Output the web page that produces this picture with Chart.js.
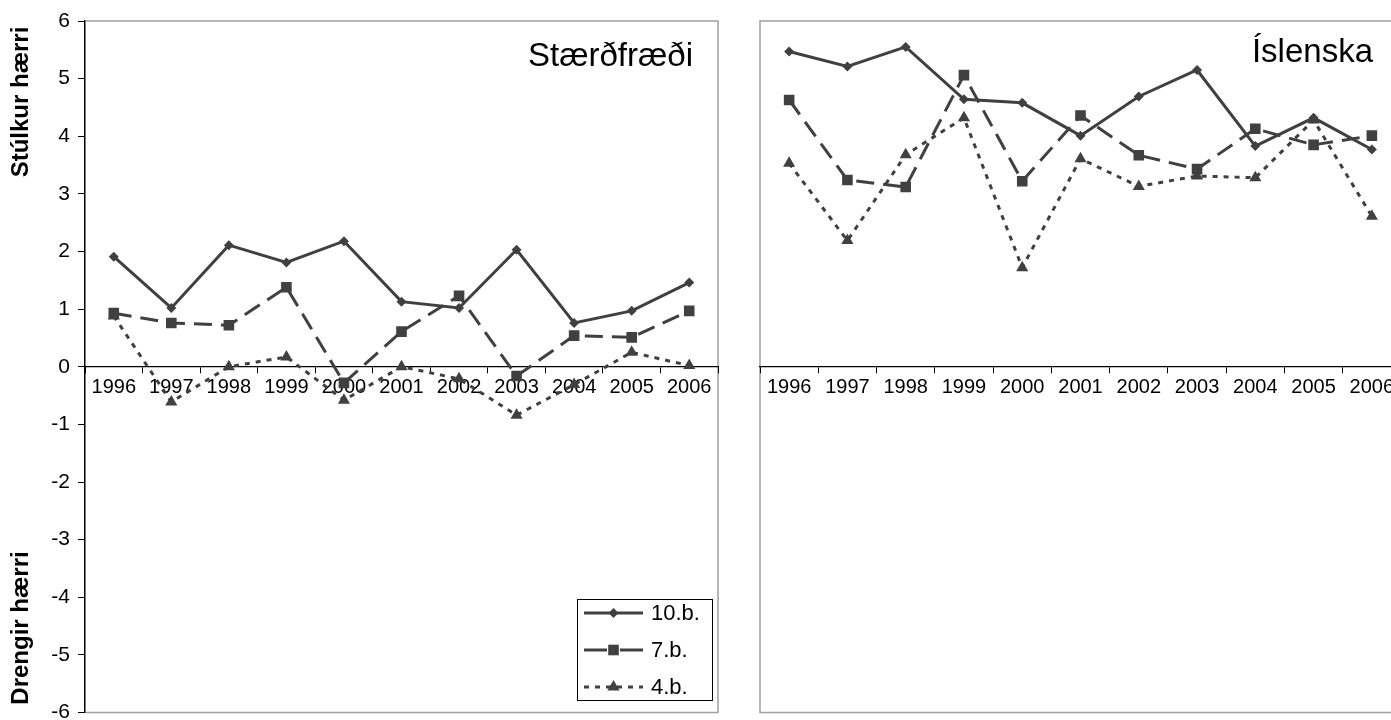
<!DOCTYPE html>
<html>
<head>
<meta charset="utf-8">
<script src="https://cdn.jsdelivr.net/npm/chart.js@4"></script>
<style>
  html, body { margin: 0; padding: 0; background: #fff; overflow: hidden; }
  #wrap { position: relative; width: 1391px; height: 720px; overflow: hidden; }
  #mathChart { position: absolute; left: 0; top: 0; }
  #islChart { position: absolute; left: 740px; top: 0; }
</style>
</head>
<body>
<div id="wrap">
  <canvas id="mathChart" width="740" height="720"></canvas>
  <canvas id="islChart" width="680" height="720"></canvas>
</div>
<script>
const years = ['1996', '1997', '1998', '1999', '2000', '2001', '2002', '2003', '2004', '2005', '2006'];
const seriesNames = ['10.b.', '7.b.', '4.b.'];

// Stærðfræði
const math10 = [1.91, 1.02, 2.11, 1.81, 2.18, 1.13, 1.02, 2.03, 0.76, 0.97, 1.46];
const math7 = [0.93, 0.76, 0.72, 1.38, -0.28, 0.61, 1.23, -0.16, 0.54, 0.51, 0.97];
const math4 = [0.88, -0.61, 0.0, 0.17, -0.58, 0.0, -0.21, -0.84, -0.31, 0.25, 0.02];

// Íslenska
const isl10 = [5.47, 5.21, 5.55, 4.64, 4.58, 4.01, 4.69, 5.15, 3.83, 4.32, 3.77];
const isl7 = [4.63, 3.24, 3.12, 5.06, 3.22, 4.36, 3.67, 3.43, 4.13, 3.85, 4.01];
const isl4 = [3.53, 2.19, 3.68, 4.32, 1.72, 3.61, 3.13, 3.31, 3.28, 4.28, 2.61];

const yMin = -6;
const yMax = 6;

const ink = '#404040';
const fontFam = 'Arial, "Liberation Sans", sans-serif';
// dash used for the short legend samples
const legendDash = [[], [23, 13], [5, 6]];

function makeSets(d10, d7, d4) {
  return [
    { label: seriesNames[0], data: d10, borderColor: ink, backgroundColor: ink, borderWidth: 3,
      pointStyle: 'rectRot', pointRadius: 5, pointBorderWidth: 0, tension: 0 },
    { label: seriesNames[1], data: d7, borderColor: ink, backgroundColor: ink, borderWidth: 3,
      borderDash: [18, 9], pointStyle: 'rect', pointRadius: 7.5, pointBorderWidth: 0, tension: 0 },
    { label: seriesNames[2], data: d4, borderColor: ink, backgroundColor: ink, borderWidth: 3,
      borderDash: [5, 6], pointStyle: 'triangle', pointRadius: 7, pointBorderWidth: 0, tension: 0 }
  ];
}

// grey frame round the plot area
const frame = {
  id: 'frame',
  beforeDraw(chart) {
    const a = chart.chartArea, c = chart.ctx;
    c.save();
    c.strokeStyle = '#a0a0a0';
    c.lineWidth = 1.5;
    c.strokeRect(a.left, a.top, a.right - a.left, a.bottom - a.top);
    c.restore();
  }
};

function marker(c, style, x, y, r) {
  c.beginPath();
  if (style === 'rectRot') {
    c.moveTo(x, y - r); c.lineTo(x + r, y); c.lineTo(x, y + r); c.lineTo(x - r, y);
  } else if (style === 'rect') {
    const s = r * Math.SQRT1_2;
    c.rect(x - s, y - s, 2 * s, 2 * s);
  } else {
    c.moveTo(x, y - r); c.lineTo(x + r * 0.866, y + r / 2); c.lineTo(x - r * 0.866, y + r / 2);
  }
  c.closePath();
  c.fill();
}

const labels = {
  id: 'labels',
  afterDraw(chart, args, opts) {
    const c = chart.ctx;
    c.save();
    c.fillStyle = '#000';
    c.font = '33px ' + fontFam;
    c.textAlign = 'right';
    c.textBaseline = 'alphabetic';
    c.fillText(opts.title, opts.titleX, opts.titleY);

    if (opts.axisText) {
      c.font = 'bold 24px ' + fontFam;
      c.textAlign = 'center';
      c.textBaseline = 'middle';
      [[opts.axisText[0], 102], [opts.axisText[1], 628]].forEach(([t, y]) => {
        c.save();
        c.translate(21, y);
        c.rotate(-Math.PI / 2);
        c.fillText(t, 0, 0);
        c.restore();
      });
    }

    if (opts.legend) {
      const bx = 577, by = 599, bw = 135, bh = 101;
      c.fillStyle = '#fff';
      c.fillRect(bx, by, bw, bh);
      c.strokeStyle = '#000';
      c.lineWidth = 1;
      c.strokeRect(bx + 0.5, by + 0.5, bw, bh);
      chart.data.datasets.forEach((ds, i) => {
        const y = 613 + i * 37;
        c.strokeStyle = ds.borderColor;
        c.lineWidth = ds.borderWidth;
        c.setLineDash(legendDash[i]);
        c.beginPath();
        c.moveTo(584, y); c.lineTo(643, y);
        c.stroke();
        c.setLineDash([]);
        c.fillStyle = ds.backgroundColor;
        marker(c, ds.pointStyle, 613.5, y, ds.pointRadius);
        c.fillStyle = '#000';
        c.font = '22px ' + fontFam;
        c.textAlign = 'left';
        c.textBaseline = 'middle';
        c.fillText(ds.label, 651, y + 1);
      });
    }
    c.restore();
  }
};

function xScale() {
  return {
    type: 'category',
    position: { y: 0 },
    offset: true,
    afterFit(s) { s.height = 0; },
    border: { display: true, color: '#000', width: 1.3 },
    grid: { offset: true, drawOnChartArea: false, drawTicks: true, tickLength: 6, color: '#000', lineWidth: 1 },
    ticks: { color: '#000', font: { family: fontFam, size: 20 }, padding: 3, maxRotation: 0, autoSkip: false }
  };
}

new Chart(document.getElementById('mathChart'), {
  type: 'line',
  data: { labels: years, datasets: makeSets(math10, math7, math4) },
  plugins: [frame, labels],
  options: {
    responsive: false,
    animation: false,
    layout: { padding: { top: 21, right: 22, bottom: 7, left: 0 } },
    plugins: {
      legend: { display: false },
      tooltip: { enabled: false },
      labels: { title: 'Stærðfræði', titleX: 693, titleY: 66,
                axisText: ['Stúlkur hærri', 'Drengir hærri'], legend: true }
    },
    scales: {
      x: xScale(),
      y: {
        min: yMin, max: yMax,
        afterFit(s) { s.width = 85; s.paddingTop = 0; s.paddingBottom = 0; },
        border: { display: true, color: '#000', width: 1.3 },
        grid: { drawOnChartArea: false, drawTicks: true, tickLength: 7, color: '#000' },
        ticks: { stepSize: 1, color: '#000', font: { family: fontFam, size: 21 }, padding: 8 }
      }
    }
  }
});

new Chart(document.getElementById('islChart'), {
  type: 'line',
  data: { labels: years, datasets: makeSets(isl10, isl7, isl4) },
  plugins: [frame, labels],
  options: {
    responsive: false,
    animation: false,
    layout: { padding: { top: 21, right: 19, bottom: 7, left: 20 } },
    plugins: {
      legend: { display: false },
      tooltip: { enabled: false },
      labels: { title: 'Íslenska', titleX: 633, titleY: 62, legend: false }
    },
    scales: {
      x: xScale(),
      y: { min: yMin, max: yMax, display: false }
    }
  }
});
</script>
</body>
</html>
